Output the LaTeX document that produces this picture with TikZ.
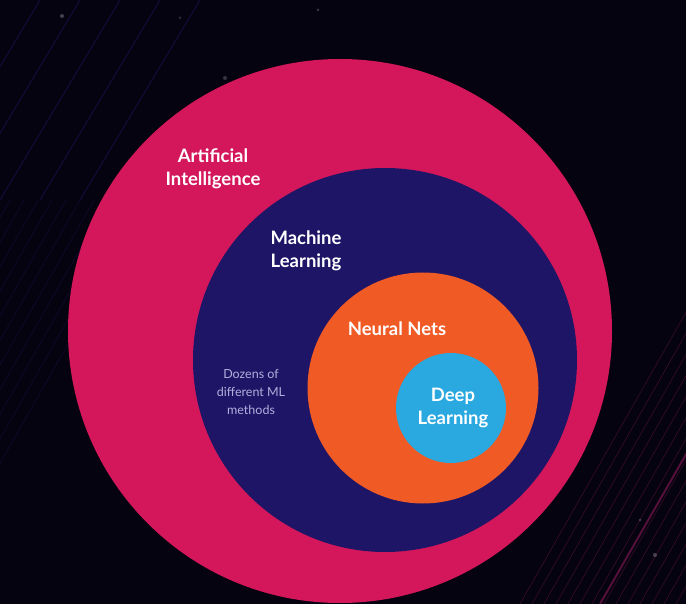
\documentclass[tikz,border=0pt]{standalone}
\usepackage{fontspec}
\setmainfont{Lato}
\definecolor{bgdark}{HTML}{05030F}
\definecolor{aipink}{HTML}{D4175A}
\definecolor{mlnavy}{HTML}{1E1566}
\definecolor{nnorange}{HTML}{F05A24}
\definecolor{dlblue}{HTML}{2AA8E0}
\definecolor{softtext}{HTML}{B4AEDC}
\definecolor{streak}{HTML}{8A1858}
\tikzset{
  ring/.style={circle, inner sep=0pt, draw=none},
  biglabel/.style={text=white, font=\fontsize{18.5}{22.5}\selectfont\bfseries, align=center, inner sep=0pt},
  smalllabel/.style={text=softtext, font=\fontsize{12.5}{18}\selectfont, align=center, inner sep=0pt},
  streakline/.style={draw=streak, line width=0.5pt, opacity=0.45}
}
\begin{document}
\begin{tikzpicture}[x=1pt, y=-1pt]
\useasboundingbox (0,0) rectangle (686,604);
\fill[bgdark] (0,0) rectangle (686,604);
% faint background streaks and specks
\begin{scope}
\clip (0,0) rectangle (686,604);
\foreach \s in {0,12,...,300} {
  \draw[streakline] (520+\s,604) -- (520+\s+230,200);
}
\draw[draw=streak, line width=2pt, opacity=0.6] (600,604) -- (700,430);
\foreach \s in {0,14,...,140} {
  \draw[draw=mlnavy, line width=0.5pt, opacity=0.45] (-220+\s,604) -- (-220+\s+230,200);
}
\foreach \s in {0,40,...,160} {
  \draw[draw=mlnavy, line width=1pt, opacity=0.5] (40+\s,0) -- (\s-80,200);
}
\fill[white, opacity=0.25] (62,16) circle (2pt);
\fill[white, opacity=0.2] (225,78) circle (2pt);
\fill[white, opacity=0.2] (318,10) circle (1.5pt);
\fill[white, opacity=0.15] (180,18) circle (1.5pt);
\fill[white, opacity=0.25] (655,555) circle (2pt);
\fill[white, opacity=0.2] (640,520) circle (1.5pt);
\end{scope}
% nested circles
\node[ring, fill=aipink, minimum size=544pt] (ai) at (340,331) {};
\node[ring, fill=mlnavy, minimum size=384pt] (ml) at (385,360) {};
\node[ring, fill=nnorange, minimum size=231pt] (nn) at (423,388) {};
\node[ring, fill=dlblue, minimum size=110pt] (dl) at (451,408) {};
% labels
\node[biglabel] (ailab) at (213,169) {Artificial\\Intelligence};
\node[biglabel] (mllab) at (306,251) {Machine\\Learning};
\node[biglabel] (nnlab) at (397,329) {Neural Nets};
\node[biglabel] (dllab) at (453,408) {Deep\\Learning};
\node[smalllabel] (other) at (251,392) {Dozens of\\different ML\\methods};
\end{tikzpicture}
\end{document}
